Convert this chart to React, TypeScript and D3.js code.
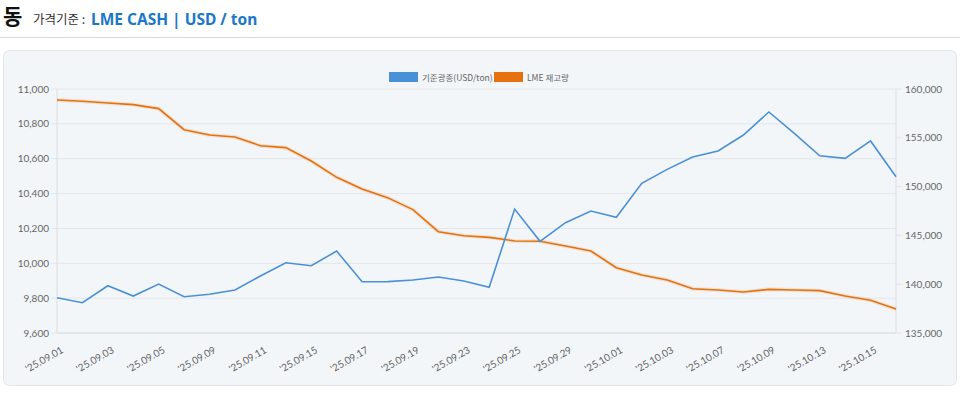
import * as d3 from "d3";

const dates = [
  "'25.09.01", "'25.09.02", "'25.09.03", "'25.09.04", "'25.09.05",
  "'25.09.08", "'25.09.09", "'25.09.10", "'25.09.11", "'25.09.12",
  "'25.09.15", "'25.09.16", "'25.09.17", "'25.09.18", "'25.09.19",
  "'25.09.22", "'25.09.23", "'25.09.24", "'25.09.25", "'25.09.26",
  "'25.09.29", "'25.09.30", "'25.10.01", "'25.10.02", "'25.10.03",
  "'25.10.06", "'25.10.07", "'25.10.08", "'25.10.09", "'25.10.10",
  "'25.10.13", "'25.10.14", "'25.10.15", "'25.10.16",
];

// LME cash price (USD/ton)
const cashPrice = [
  9802, 9774, 9871, 9812, 9881, 9808, 9822, 9847, 9927, 10003,
  9986, 10070, 9894, 9895, 9904, 9921, 9898, 9862, 10311, 10126,
  10233, 10300, 10264, 10459, 10539, 10610, 10644, 10736, 10868, 10745,
  10617, 10602, 10702, 10497,
];

// LME stock (ton)
const stock = [
  158870, 158740, 158570, 158400, 157990, 155830, 155290, 155080, 154190, 153990,
  152620, 150950, 149750, 148870, 147640, 145380, 144970, 144800, 144430, 144400,
  143910, 143400, 141690, 140940, 140430, 139540, 139410, 139200, 139470, 139410,
  139340, 138790, 138350, 137460,
];

const leftTicks = [9600, 9800, 10000, 10200, 10400, 10600, 10800, 11000];
const rightTicks = [135000, 140000, 145000, 150000, 155000, 160000];
const seriesNames = ["기준광종(USD/ton)", "LME 재고량"];

const W = 960;
const H = 393;
const margin = { left: 57, right: 64, top: 89, bottom: 60 };
const BLUE = "#4a90d9";
const ORANGE = "#e5720f";
const FONT = "Lato, 'Noto Sans CJK KR', sans-serif";
const KR = "'Noto Sans CJK KR', sans-serif";

export default function App() {
  const x = d3
    .scalePoint<number>()
    .domain(dates.map((_, i) => i))
    .range([margin.left, W - margin.right]);
  const yL = d3.scaleLinear().domain([9600, 11000]).range([H - margin.bottom, margin.top]);
  const yR = d3.scaleLinear().domain([135000, 160000]).range([H - margin.bottom, margin.top]);

  const priceLine = d3
    .line<number>()
    .x((_, i) => x(i)!)
    .y((d) => yL(d));
  const stockLine = d3
    .line<number>()
    .x((_, i) => x(i)!)
    .y((d) => yR(d));

  const x0 = margin.left;
  const x1 = W - margin.right;
  const yBottom = H - margin.bottom;

  return (
    <div style={{ position: "absolute", left: 0, top: 0 }}>
      <svg width={W} height={H} style={{ display: "block", fontFamily: FONT }}>
        <rect width={W} height={H} fill="#fff" />
        {/* header */}
        <text x={3} y={24} fontSize={21} fontWeight={700} fill="#111" fontFamily={KR}>
          동
        </text>
        <text x={33} y={24} fontSize={12.5} fill="#333" fontFamily={KR}>
          가격기준 :
        </text>
        <text x={91} y={25} fontSize={15.5} fontWeight={700} fill="#1a78c8" fontFamily="'Noto Sans', sans-serif">
          LME CASH | USD / ton
        </text>
        <line x1={0} x2={W} y1={37.5} y2={37.5} stroke="#dcdcdc" />

        {/* panel */}
        <rect x={3.5} y={50.5} width={953} height={335} rx={6} fill="#f3f6f9" stroke="#e2e6ea" />

        {/* legend */}
        <rect x={389} y={72} width={29} height={10} fill={BLUE} />
        <text x={422} y={80.5} fontSize={8.5} fill="#666" fontFamily={KR}>
          {seriesNames[0]}
        </text>
        <rect x={494} y={72} width={29} height={10} fill={ORANGE} />
        <text x={527} y={80.5} fontSize={8.5} fill="#666" fontFamily={KR}>
          {seriesNames[1]}
        </text>

        {/* grid + left ticks */}
        {leftTicks.map((t) => (
          <g key={t}>
            <line x1={x0 - 6} x2={x1} y1={yL(t)} y2={yL(t)} stroke="#e3e6ea" />
            <text x={x0 - 8} y={yL(t)} dy="0.35em" textAnchor="end" fontSize={10} fill="#666">
              {d3.format(",")(t)}
            </text>
          </g>
        ))}
        {rightTicks.map((t) => (
          <g key={t}>
            <line x1={x1} x2={x1 + 6} y1={yR(t)} y2={yR(t)} stroke="#e3e6ea" />
            <text x={x1 + 9} y={yR(t)} dy="0.35em" textAnchor="start" fontSize={10} fill="#666">
              {d3.format(",")(t)}
            </text>
          </g>
        ))}
        <line x1={x0} x2={x0} y1={margin.top} y2={yBottom} stroke="#d9dde2" />
        <line x1={x1} x2={x1} y1={margin.top} y2={yBottom} stroke="#d9dde2" />
        <line x1={x0} x2={x1} y1={yBottom} y2={yBottom} stroke="#d9dde2" />

        {/* x labels */}
        {dates.map((d, i) =>
          i % 2 === 0 ? (
            <text
              key={d}
              transform={`translate(${x(i)! + 7},${yBottom + 19}) rotate(-30)`}
              textAnchor="end"
              fontSize={10}
              fill="#666"
            >
              {d}
            </text>
          ) : null
        )}

        {/* lines */}
        <path d={stockLine(stock) ?? ""} fill="none" stroke={ORANGE} strokeOpacity={0.15} strokeWidth={4} />
        <path d={stockLine(stock) ?? ""} fill="none" stroke={ORANGE} strokeWidth={1.6} />
        <path d={priceLine(cashPrice) ?? ""} fill="none" stroke={BLUE} strokeWidth={1.6} />
      </svg>
    </div>
  );
}
